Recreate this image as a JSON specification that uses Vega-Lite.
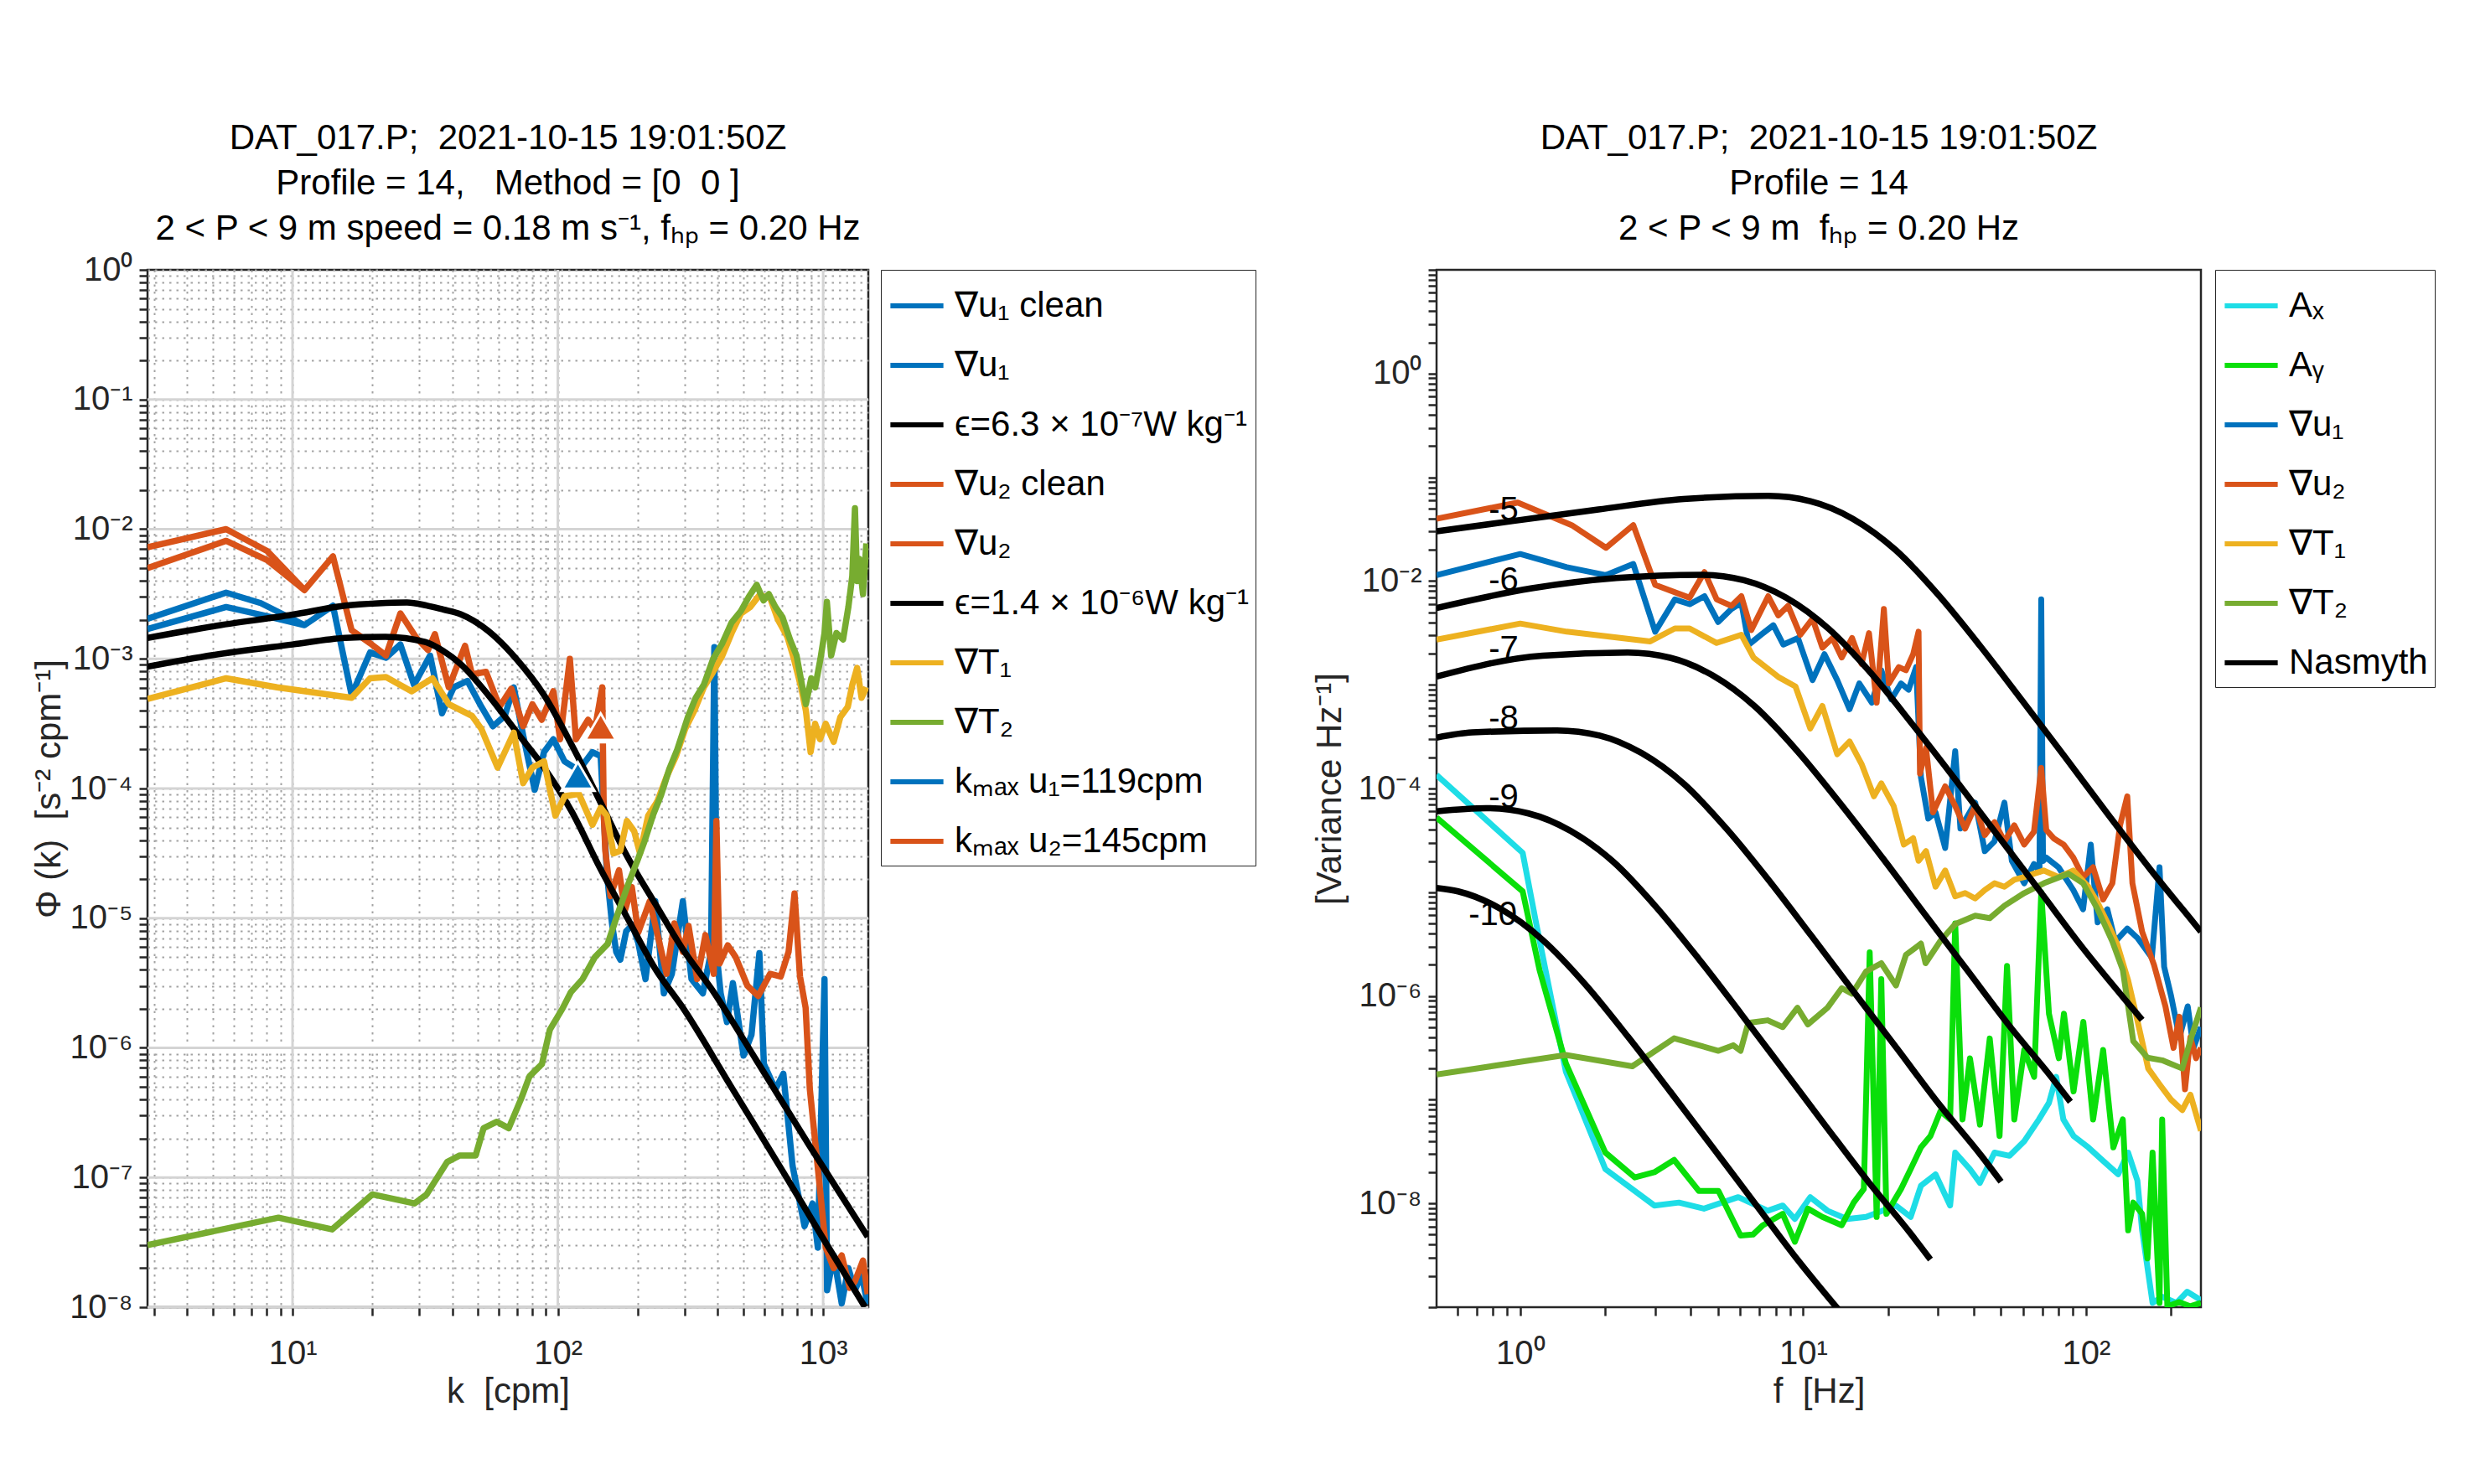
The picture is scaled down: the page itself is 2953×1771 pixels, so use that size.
{
  "$schema": "https://vega.github.io/schema/vega-lite/v6.json",
  "background": "white",
  "padding": {"left": 36, "top": 142, "right": 5, "bottom": 5},
  "config": {
    "font": "Liberation Sans",
    "view": {"stroke": "#262626", "strokeWidth": 2.5},
    "axis": {
      "labelFont": "Liberation Sans", "labelFontSize": 40, "labelColor": "#262626",
      "titleFont": "Liberation Sans", "titleFontSize": 42, "titleFontWeight": "normal", "titleColor": "#262626",
      "tickColor": "#262626", "tickWidth": 2.5, "tickSize": 10, "domain": false, "labelOverlap": false, "labelFlush": false
    },
    "legend": {
      "labelFont": "Liberation Sans", "labelFontSize": 42, "labelColor": "black", "labelLimit": 0, "labelOffset": 10,
      "symbolType": "stroke", "symbolSize": 4000, "symbolStrokeWidth": 6, "padding": 8,
      "strokeColor": "#262626"
    },
    "title": {"font": "Liberation Sans", "fontSize": 42, "fontWeight": "normal", "color": "black", "lineHeight": 54, "offset": 7, "anchor": "middle"}
  },
  "datasets": {
    "LU": [
      {"s":"∇u₁ clean","x":2.84,"y":1.70e-3},{"s":"∇u₁ clean","x":5.62,"y":2.51e-3},{"s":"∇u₁ clean","x":7.59,"y":2.19e-3},{"s":"∇u₁ clean","x":11.1,"y":1.82e-3},{"s":"∇u₁ clean","x":14.2,"y":2.57e-3},{"s":"∇u₁ clean","x":16.7,"y":5.25e-4},{"s":"∇u₁ clean","x":19.6,"y":1.12e-3},{"s":"∇u₁ clean","x":22.5,"y":1.02e-3},{"s":"∇u₁ clean","x":25.5,"y":1.29e-3},{"s":"∇u₁ clean","x":28.7,"y":6.31e-4},{"s":"∇u₁ clean","x":33.0,"y":1.06e-3},{"s":"∇u₁ clean","x":36.6,"y":3.80e-4},{"s":"∇u₁ clean","x":40.5,"y":6.03e-4},{"s":"∇u₁ clean","x":45.6,"y":6.76e-4},{"s":"∇u₁ clean","x":51.5,"y":4.27e-4},{"s":"∇u₁ clean","x":56.9,"y":3.02e-4},{"s":"∇u₁ clean","x":63.1,"y":3.63e-4},{"s":"∇u₁ clean","x":68.2,"y":6.03e-4},{"s":"∇u₁ clean","x":74.0,"y":2.57e-4},{"s":"∇u₁ clean","x":81.8,"y":9.77e-5},{"s":"∇u₁ clean","x":88.7,"y":1.91e-4},{"s":"∇u₁ clean","x":96.2,"y":2.40e-4},{"s":"∇u₁ clean","x":106,"y":1.62e-4},{"s":"∇u₁ clean","x":120,"y":1.38e-4},{"s":"∇u₁ clean","x":135,"y":1.91e-4},{"s":"∇u₁ clean","x":145,"y":1.78e-4},{"s":"∇u₁ clean","x":153,"y":2.24e-5},{"s":"∇u₁ clean","x":160,"y":9.12e-6},{"s":"∇u₁ clean","x":166,"y":5.50e-6},{"s":"∇u₁ clean","x":172,"y":4.79e-6},{"s":"∇u₁ clean","x":181,"y":7.94e-6},{"s":"∇u₁ clean","x":191,"y":8.91e-6},{"s":"∇u₁ clean","x":201,"y":6.46e-6},{"s":"∇u₁ clean","x":214,"y":3.39e-6},{"s":"∇u₁ clean","x":233,"y":1.35e-5},{"s":"∇u₁ clean","x":251,"y":2.63e-6},{"s":"∇u₁ clean","x":269,"y":3.72e-6},{"s":"∇u₁ clean","x":296,"y":1.35e-5},{"s":"∇u₁ clean","x":319,"y":3.39e-6},{"s":"∇u₁ clean","x":352,"y":2.63e-6},{"s":"∇u₁ clean","x":378,"y":5.50e-6},{"s":"∇u₁ clean","x":389,"y":1.23e-3},{"s":"∇u₁ clean","x":398,"y":5.01e-6},{"s":"∇u₁ clean","x":411,"y":2.63e-6},{"s":"∇u₁ clean","x":434,"y":1.58e-6},{"s":"∇u₁ clean","x":457,"y":3.16e-6},{"s":"∇u₁ clean","x":501,"y":8.71e-7},{"s":"∇u₁ clean","x":537,"y":1.26e-6},{"s":"∇u₁ clean","x":575,"y":5.37e-6},{"s":"∇u₁ clean","x":598,"y":7.50e-7},{"s":"∇u₁ clean","x":661,"y":4.79e-7},{"s":"∇u₁ clean","x":708,"y":6.31e-7},{"s":"∇u₁ clean","x":767,"y":1.23e-7},{"s":"∇u₁ clean","x":851,"y":4.22e-8},{"s":"∇u₁ clean","x":912,"y":6.31e-8},{"s":"∇u₁ clean","x":955,"y":2.88e-8},{"s":"∇u₁ clean","x":1012,"y":3.39e-6},{"s":"∇u₁ clean","x":1035,"y":1.35e-8},{"s":"∇u₁ clean","x":1096,"y":2.51e-8},{"s":"∇u₁ clean","x":1175,"y":1.07e-8},{"s":"∇u₁ clean","x":1245,"y":2.0e-8},{"s":"∇u₁ clean","x":1318,"y":1.35e-8},{"s":"∇u₁ clean","x":1396,"y":1.78e-8},{"s":"∇u₁ clean","x":1472,"y":1.05e-8},
      {"s":"∇u₁","x":2.84,"y":2.04e-3},{"s":"∇u₁","x":5.62,"y":3.24e-3},{"s":"∇u₁","x":7.59,"y":2.69e-3},{"s":"∇u₁","x":11.1,"y":1.82e-3},
      {"s":"∇u₂ clean","x":2.84,"y":5.01e-3},{"s":"∇u₂ clean","x":5.62,"y":8.13e-3},{"s":"∇u₂ clean","x":8.04,"y":5.75e-3},{"s":"∇u₂ clean","x":11.1,"y":3.39e-3},{"s":"∇u₂ clean","x":14.2,"y":6.17e-3},{"s":"∇u₂ clean","x":16.7,"y":1.66e-3},{"s":"∇u₂ clean","x":19.6,"y":1.32e-3},{"s":"∇u₂ clean","x":22.5,"y":1.06e-3},{"s":"∇u₂ clean","x":25.5,"y":2.24e-3},{"s":"∇u₂ clean","x":29.3,"y":1.45e-3},{"s":"∇u₂ clean","x":32.4,"y":1.17e-3},{"s":"∇u₂ clean","x":34.4,"y":1.55e-3},{"s":"∇u₂ clean","x":38.8,"y":6.03e-4},{"s":"∇u₂ clean","x":44.7,"y":1.26e-3},{"s":"∇u₂ clean","x":47.5,"y":7.59e-4},{"s":"∇u₂ clean","x":53.6,"y":7.94e-4},{"s":"∇u₂ clean","x":60.3,"y":4.27e-4},{"s":"∇u₂ clean","x":66.8,"y":5.89e-4},{"s":"∇u₂ clean","x":74.0,"y":3.02e-4},{"s":"∇u₂ clean","x":80.2,"y":4.47e-4},{"s":"∇u₂ clean","x":86.9,"y":3.39e-4},{"s":"∇u₂ clean","x":96.2,"y":5.62e-4},{"s":"∇u₂ clean","x":102,"y":2.40e-4},{"s":"∇u₂ clean","x":111,"y":1.0e-3},{"s":"∇u₂ clean","x":117,"y":2.40e-4},{"s":"∇u₂ clean","x":130,"y":3.39e-4},{"s":"∇u₂ clean","x":138,"y":2.88e-4},{"s":"∇u₂ clean","x":147,"y":6.03e-4},{"s":"∇u₂ clean","x":149,"y":6.17e-5},{"s":"∇u₂ clean","x":151,"y":3.31e-5},{"s":"∇u₂ clean","x":158,"y":1.48e-5},{"s":"∇u₂ clean","x":170,"y":2.34e-5},{"s":"∇u₂ clean","x":179,"y":1.15e-5},{"s":"∇u₂ clean","x":190,"y":1.74e-5},{"s":"∇u₂ clean","x":201,"y":7.76e-6},{"s":"∇u₂ clean","x":222,"y":1.35e-5},{"s":"∇u₂ clean","x":239,"y":7.08e-6},{"s":"∇u₂ clean","x":257,"y":3.72e-6},{"s":"∇u₂ clean","x":275,"y":9.12e-6},{"s":"∇u₂ clean","x":296,"y":5.50e-6},{"s":"∇u₂ clean","x":311,"y":8.71e-6},{"s":"∇u₂ clean","x":335,"y":3.39e-6},{"s":"∇u₂ clean","x":360,"y":7.41e-6},{"s":"∇u₂ clean","x":387,"y":3.72e-6},{"s":"∇u₂ clean","x":396,"y":5.62e-5},{"s":"∇u₂ clean","x":407,"y":4.47e-6},{"s":"∇u₂ clean","x":437,"y":6.17e-6},{"s":"∇u₂ clean","x":468,"y":5.01e-6},{"s":"∇u₂ clean","x":518,"y":3.02e-6},{"s":"∇u₂ clean","x":569,"y":2.51e-6},{"s":"∇u₂ clean","x":631,"y":3.72e-6},{"s":"∇u₂ clean","x":692,"y":3.55e-6},{"s":"∇u₂ clean","x":741,"y":5.50e-6},{"s":"∇u₂ clean","x":780,"y":1.55e-5},{"s":"∇u₂ clean","x":818,"y":3.55e-6},{"s":"∇u₂ clean","x":859,"y":2.04e-6},{"s":"∇u₂ clean","x":891,"y":4.79e-7},{"s":"∇u₂ clean","x":933,"y":1.91e-7},{"s":"∇u₂ clean","x":986,"y":6.17e-8},{"s":"∇u₂ clean","x":1023,"y":2.88e-8},{"s":"∇u₂ clean","x":1096,"y":2.0e-8},{"s":"∇u₂ clean","x":1175,"y":2.51e-8},{"s":"∇u₂ clean","x":1259,"y":1.41e-8},{"s":"∇u₂ clean","x":1318,"y":1.58e-8},{"s":"∇u₂ clean","x":1413,"y":2.29e-8},{"s":"∇u₂ clean","x":1472,"y":1.26e-8},
      {"s":"∇u₂","x":2.84,"y":7.24e-3},{"s":"∇u₂","x":5.62,"y":1.0e-2},{"s":"∇u₂","x":8.04,"y":6.76e-3},{"s":"∇u₂","x":11.1,"y":3.39e-3}
    ],
    "LE": [
      {"s":"ϵ=6.3 × 10⁻⁷W kg⁻¹","x":2.84,"y":8.71e-4},{"s":"ϵ=6.3 × 10⁻⁷W kg⁻¹","x":5.01,"y":1.07e-3},{"s":"ϵ=6.3 × 10⁻⁷W kg⁻¹","x":10,"y":1.29e-3},{"s":"ϵ=6.3 × 10⁻⁷W kg⁻¹","x":15.8,"y":1.45e-3},{"s":"ϵ=6.3 × 10⁻⁷W kg⁻¹","x":22.4,"y":1.48e-3},{"s":"ϵ=6.3 × 10⁻⁷W kg⁻¹","x":31.6,"y":1.35e-3},{"s":"ϵ=6.3 × 10⁻⁷W kg⁻¹","x":37,"y":1.15e-3},{"s":"ϵ=6.3 × 10⁻⁷W kg⁻¹","x":43.0,"y":9.12e-4},{"s":"ϵ=6.3 × 10⁻⁷W kg⁻¹","x":54.7,"y":5.25e-4},{"s":"ϵ=6.3 × 10⁻⁷W kg⁻¹","x":69.7,"y":2.75e-4},{"s":"ϵ=6.3 × 10⁻⁷W kg⁻¹","x":88.7,"y":1.45e-4},{"s":"ϵ=6.3 × 10⁻⁷W kg⁻¹","x":113,"y":6.61e-5},{"s":"ϵ=6.3 × 10⁻⁷W kg⁻¹","x":144,"y":2.45e-5},{"s":"ϵ=6.3 × 10⁻⁷W kg⁻¹","x":183,"y":1.0e-5},{"s":"ϵ=6.3 × 10⁻⁷W kg⁻¹","x":233,"y":4.07e-6},{"s":"ϵ=6.3 × 10⁻⁷W kg⁻¹","x":296,"y":2.04e-6},{"s":"ϵ=6.3 × 10⁻⁷W kg⁻¹","x":447,"y":5.13e-7},{"s":"ϵ=6.3 × 10⁻⁷W kg⁻¹","x":708,"y":1.10e-7},{"s":"ϵ=6.3 × 10⁻⁷W kg⁻¹","x":1000,"y":3.39e-8},{"s":"ϵ=6.3 × 10⁻⁷W kg⁻¹","x":1439,"y":1.0e-8},
      {"s":"ϵ=1.4 × 10⁻⁶W kg⁻¹","x":2.84,"y":1.45e-3},{"s":"ϵ=1.4 × 10⁻⁶W kg⁻¹","x":5.01,"y":1.78e-3},{"s":"ϵ=1.4 × 10⁻⁶W kg⁻¹","x":10,"y":2.19e-3},{"s":"ϵ=1.4 × 10⁻⁶W kg⁻¹","x":15.8,"y":2.57e-3},{"s":"ϵ=1.4 × 10⁻⁶W kg⁻¹","x":21,"y":2.68e-3},{"s":"ϵ=1.4 × 10⁻⁶W kg⁻¹","x":27,"y":2.72e-3},{"s":"ϵ=1.4 × 10⁻⁶W kg⁻¹","x":32,"y":2.58e-3},{"s":"ϵ=1.4 × 10⁻⁶W kg⁻¹","x":37,"y":2.40e-3},{"s":"ϵ=1.4 × 10⁻⁶W kg⁻¹","x":43.0,"y":2.21e-3},{"s":"ϵ=1.4 × 10⁻⁶W kg⁻¹","x":54.7,"y":1.64e-3},{"s":"ϵ=1.4 × 10⁻⁶W kg⁻¹","x":69.7,"y":1.0e-3},{"s":"ϵ=1.4 × 10⁻⁶W kg⁻¹","x":88.7,"y":5.25e-4},{"s":"ϵ=1.4 × 10⁻⁶W kg⁻¹","x":113,"y":2.15e-4},{"s":"ϵ=1.4 × 10⁻⁶W kg⁻¹","x":144,"y":8.0e-5},{"s":"ϵ=1.4 × 10⁻⁶W kg⁻¹","x":183,"y":2.97e-5},{"s":"ϵ=1.4 × 10⁻⁶W kg⁻¹","x":233,"y":1.29e-5},{"s":"ϵ=1.4 × 10⁻⁶W kg⁻¹","x":296,"y":5.75e-6},{"s":"ϵ=1.4 × 10⁻⁶W kg⁻¹","x":378,"y":2.88e-6},{"s":"ϵ=1.4 × 10⁻⁶W kg⁻¹","x":562,"y":7.94e-7},{"s":"ϵ=1.4 × 10⁻⁶W kg⁻¹","x":891,"y":1.74e-7},{"s":"ϵ=1.4 × 10⁻⁶W kg⁻¹","x":1472,"y":3.49e-8}
    ],
    "LT": [
      {"s":"∇T₁","x":2.84,"y":4.90e-4},{"s":"∇T₁","x":5.62,"y":7.08e-4},{"s":"∇T₁","x":8.75,"y":6.03e-4},{"s":"∇T₁","x":16.7,"y":5.01e-4},{"s":"∇T₁","x":19.6,"y":7.08e-4},{"s":"∇T₁","x":22.5,"y":7.24e-4},{"s":"∇T₁","x":28.1,"y":5.62e-4},{"s":"∇T₁","x":33.7,"y":7.08e-4},{"s":"∇T₁","x":38.8,"y":4.47e-4},{"s":"∇T₁","x":47.5,"y":3.63e-4},{"s":"∇T₁","x":51.5,"y":2.88e-4},{"s":"∇T₁","x":59.3,"y":1.45e-4},{"s":"∇T₁","x":68.2,"y":2.69e-4},{"s":"∇T₁","x":74.0,"y":1.10e-4},{"s":"∇T₁","x":80.2,"y":1.45e-4},{"s":"∇T₁","x":88.7,"y":1.62e-4},{"s":"∇T₁","x":97.9,"y":6.17e-5},{"s":"∇T₁","x":106,"y":8.71e-5},{"s":"∇T₁","x":120,"y":9.12e-5},{"s":"∇T₁","x":135,"y":5.25e-5},{"s":"∇T₁","x":145,"y":7.08e-5},{"s":"∇T₁","x":153,"y":6.17e-5},{"s":"∇T₁","x":162,"y":3.16e-5},{"s":"∇T₁","x":172,"y":3.31e-5},{"s":"∇T₁","x":182,"y":5.62e-5},{"s":"∇T₁","x":194,"y":4.68e-5},{"s":"∇T₁","x":204,"y":3.16e-5},{"s":"∇T₁","x":219,"y":6.17e-5},{"s":"∇T₁","x":237,"y":7.94e-5},{"s":"∇T₁","x":257,"y":1.23e-4},{"s":"∇T₁","x":279,"y":1.78e-4},{"s":"∇T₁","x":302,"y":2.88e-4},{"s":"∇T₁","x":327,"y":3.98e-4},{"s":"∇T₁","x":355,"y":6.03e-4},{"s":"∇T₁","x":385,"y":7.94e-4},{"s":"∇T₁","x":417,"y":1.06e-3},{"s":"∇T₁","x":452,"y":1.58e-3},{"s":"∇T₁","x":490,"y":2.24e-3},{"s":"∇T₁","x":531,"y":2.51e-3},{"s":"∇T₁","x":575,"y":3.09e-3},{"s":"∇T₁","x":631,"y":2.95e-3},{"s":"∇T₁","x":676,"y":2.0e-3},{"s":"∇T₁","x":733,"y":1.48e-3},{"s":"∇T₁","x":776,"y":1.0e-3},{"s":"∇T₁","x":826,"y":6.03e-4},{"s":"∇T₁","x":861,"y":3.98e-4},{"s":"∇T₁","x":897,"y":1.91e-4},{"s":"∇T₁","x":933,"y":3.16e-4},{"s":"∇T₁","x":973,"y":2.40e-4},{"s":"∇T₁","x":1023,"y":3.16e-4},{"s":"∇T₁","x":1096,"y":2.29e-4},{"s":"∇T₁","x":1161,"y":3.55e-4},{"s":"∇T₁","x":1239,"y":4.27e-4},{"s":"∇T₁","x":1288,"y":6.31e-4},{"s":"∇T₁","x":1343,"y":8.51e-4},{"s":"∇T₁","x":1396,"y":5.01e-4},{"s":"∇T₁","x":1455,"y":6.03e-4},
      {"s":"∇T₂","x":2.84,"y":3.02e-8},{"s":"∇T₂","x":8.85,"y":4.90e-8},{"s":"∇T₂","x":14.1,"y":3.98e-8},{"s":"∇T₂","x":20.0,"y":7.41e-8},{"s":"∇T₂","x":28.8,"y":6.31e-8},{"s":"∇T₂","x":32.0,"y":7.41e-8},{"s":"∇T₂","x":38.3,"y":1.32e-7},{"s":"∇T₂","x":42.7,"y":1.48e-7},{"s":"∇T₂","x":49.0,"y":1.48e-7},{"s":"∇T₂","x":52.5,"y":2.40e-7},{"s":"∇T₂","x":58.9,"y":2.69e-7},{"s":"∇T₂","x":65.3,"y":2.40e-7},{"s":"∇T₂","x":72.8,"y":4.07e-7},{"s":"∇T₂","x":78.2,"y":6.03e-7},{"s":"∇T₂","x":87.1,"y":7.50e-7},{"s":"∇T₂","x":93.3,"y":1.38e-6},{"s":"∇T₂","x":104,"y":2.0e-6},{"s":"∇T₂","x":112,"y":2.69e-6},{"s":"∇T₂","x":124,"y":3.39e-6},{"s":"∇T₂","x":138,"y":5.01e-6},{"s":"∇T₂","x":154,"y":6.31e-6},{"s":"∇T₂","x":166,"y":1.0e-5},{"s":"∇T₂","x":184,"y":1.82e-5},{"s":"∇T₂","x":200,"y":2.82e-5},{"s":"∇T₂","x":212,"y":3.89e-5},{"s":"∇T₂","x":229,"y":6.31e-5},{"s":"∇T₂","x":245,"y":8.91e-5},{"s":"∇T₂","x":263,"y":1.41e-4},{"s":"∇T₂","x":282,"y":2.0e-4},{"s":"∇T₂","x":309,"y":3.55e-4},{"s":"∇T₂","x":331,"y":5.01e-4},{"s":"∇T₂","x":355,"y":6.31e-4},{"s":"∇T₂","x":385,"y":1.0e-3},{"s":"∇T₂","x":417,"y":1.32e-3},{"s":"∇T₂","x":452,"y":1.91e-3},{"s":"∇T₂","x":490,"y":2.34e-3},{"s":"∇T₂","x":525,"y":3.02e-3},{"s":"∇T₂","x":562,"y":3.72e-3},{"s":"∇T₂","x":596,"y":2.82e-3},{"s":"∇T₂","x":624,"y":3.16e-3},{"s":"∇T₂","x":661,"y":2.51e-3},{"s":"∇T₂","x":703,"y":2.09e-3},{"s":"∇T₂","x":750,"y":1.41e-3},{"s":"∇T₂","x":794,"y":1.06e-3},{"s":"∇T₂","x":832,"y":6.31e-4},{"s":"∇T₂","x":861,"y":4.47e-4},{"s":"∇T₂","x":902,"y":7.08e-4},{"s":"∇T₂","x":933,"y":6.03e-4},{"s":"∇T₂","x":977,"y":1.0e-3},{"s":"∇T₂","x":1012,"y":1.58e-3},{"s":"∇T₂","x":1033,"y":2.75e-3},{"s":"∇T₂","x":1072,"y":1.06e-3},{"s":"∇T₂","x":1122,"y":1.58e-3},{"s":"∇T₂","x":1189,"y":1.41e-3},{"s":"∇T₂","x":1245,"y":2.51e-3},{"s":"∇T₂","x":1288,"y":4.37e-3},{"s":"∇T₂","x":1318,"y":1.45e-2},{"s":"∇T₂","x":1343,"y":3.98e-3},{"s":"∇T₂","x":1368,"y":5.89e-3},{"s":"∇T₂","x":1413,"y":3.16e-3},{"s":"∇T₂","x":1455,"y":7.76e-3}
    ],
    "K": [
      {"s":"kₘₐₓ u₁=119cpm","x":119,"y":1.25e-4},
      {"s":"kₘₐₓ u₂=145cpm","x":145,"y":2.97e-4}
    ],
    "GX": [{"g":10},{"g":100},{"g":1000}],
    "GY": [{"g":1e-8},{"g":1e-7},{"g":1e-6},{"g":1e-5},{"g":1e-4},{"g":1e-3},{"g":1e-2},{"g":0.1}],
    "R": [
      {"s":"Aₓ","x":0.506,"y":1.35e-4},{"s":"Aₓ","x":1.02,"y":2.40e-5},{"s":"Aₓ","x":1.14,"y":4.93e-6},{"s":"Aₓ","x":1.45,"y":1.86e-7},{"s":"Aₓ","x":2.0,"y":2.14e-8},{"s":"Aₓ","x":2.98,"y":9.55e-9},{"s":"Aₓ","x":3.64,"y":1.02e-8},{"s":"Aₓ","x":4.46,"y":8.91e-9},{"s":"Aₓ","x":5.90,"y":1.15e-8},{"s":"Aₓ","x":7.50,"y":8.51e-9},{"s":"Aₓ","x":8.47,"y":9.55e-9},{"s":"Aₓ","x":9.35,"y":7.08e-9},{"s":"Aₓ","x":10.6,"y":1.15e-8},{"s":"Aₓ","x":12.2,"y":8.51e-9},{"s":"Aₓ","x":14.3,"y":7.08e-9},{"s":"Aₓ","x":16.7,"y":7.41e-9},{"s":"Aₓ","x":21.3,"y":9.55e-9},{"s":"Aₓ","x":24.0,"y":7.41e-9},{"s":"Aₓ","x":26.1,"y":1.48e-8},{"s":"Aₓ","x":29.4,"y":1.91e-8},{"s":"Aₓ","x":33.1,"y":9.55e-9},{"s":"Aₓ","x":34.5,"y":3.09e-8},{"s":"Aₓ","x":38.9,"y":2.14e-8},{"s":"Aₓ","x":42.2,"y":1.58e-8},{"s":"Aₓ","x":47.5,"y":3.09e-8},{"s":"Aₓ","x":53.7,"y":2.88e-8},{"s":"Aₓ","x":60.5,"y":3.98e-8},{"s":"Aₓ","x":68.2,"y":6.46e-8},{"s":"Aₓ","x":74.0,"y":9.33e-8},{"s":"Aₓ","x":78.5,"y":1.66e-7},{"s":"Aₓ","x":83.2,"y":6.46e-8},{"s":"Aₓ","x":90.4,"y":4.47e-8},{"s":"Aₓ","x":102,"y":3.47e-8},{"s":"Aₓ","x":115,"y":2.57e-8},{"s":"Aₓ","x":130,"y":1.91e-8},{"s":"Aₓ","x":141,"y":3.09e-8},{"s":"Aₓ","x":152,"y":1.66e-8},{"s":"Aₓ","x":158,"y":5.50e-9},{"s":"Aₓ","x":172,"y":1.10e-9},{"s":"Aₓ","x":186,"y":1.26e-9},{"s":"Aₓ","x":209,"y":1.10e-9},{"s":"Aₓ","x":228,"y":1.41e-9},{"s":"Aₓ","x":255,"y":1.17e-9},
      {"s":"Aᵧ","x":0.506,"y":5.25e-5},{"s":"Aᵧ","x":1.02,"y":1.02e-5},{"s":"Aᵧ","x":1.17,"y":1.78e-6},{"s":"Aᵧ","x":1.45,"y":2.24e-7},{"s":"Aᵧ","x":2.0,"y":3.09e-8},{"s":"Aᵧ","x":2.54,"y":1.78e-8},{"s":"Aᵧ","x":2.98,"y":2.0e-8},{"s":"Aᵧ","x":3.50,"y":2.63e-8},{"s":"Aᵧ","x":4.28,"y":1.32e-8},{"s":"Aᵧ","x":5.02,"y":1.32e-8},{"s":"Aᵧ","x":6.01,"y":4.90e-9},{"s":"Aᵧ","x":6.65,"y":5.01e-9},{"s":"Aᵧ","x":7.21,"y":6.17e-9},{"s":"Aᵧ","x":8.47,"y":7.94e-9},{"s":"Aᵧ","x":9.35,"y":4.27e-9},{"s":"Aᵧ","x":10.4,"y":8.91e-9},{"s":"Aᵧ","x":11.7,"y":7.41e-9},{"s":"Aᵧ","x":13.7,"y":6.17e-9},{"s":"Aᵧ","x":15.1,"y":1.02e-8},{"s":"Aᵧ","x":16.4,"y":1.38e-8},{"s":"Aᵧ","x":17.2,"y":2.63e-6},{"s":"Aᵧ","x":18.2,"y":7.41e-9},{"s":"Aᵧ","x":18.9,"y":1.45e-6},{"s":"Aᵧ","x":19.7,"y":7.94e-9},{"s":"Aᵧ","x":22.2,"y":1.38e-8},{"s":"Aᵧ","x":24.0,"y":2.14e-8},{"s":"Aᵧ","x":26.1,"y":3.47e-8},{"s":"Aᵧ","x":28.2,"y":4.47e-8},{"s":"Aᵧ","x":30.6,"y":7.76e-8},{"s":"Aᵧ","x":33.1,"y":6.46e-8},{"s":"Aᵧ","x":34.5,"y":5.01e-6},{"s":"Aᵧ","x":36.6,"y":6.46e-8},{"s":"Aᵧ","x":38.9,"y":2.51e-7},{"s":"Aᵧ","x":42.2,"y":5.75e-8},{"s":"Aᵧ","x":45.7,"y":3.89e-7},{"s":"Aᵧ","x":49.5,"y":4.47e-8},{"s":"Aᵧ","x":52.6,"y":1.95e-6},{"s":"Aᵧ","x":55.8,"y":6.46e-8},{"s":"Aᵧ","x":60.5,"y":3.02e-7},{"s":"Aᵧ","x":65.6,"y":1.66e-7},{"s":"Aᵧ","x":69.5,"y":1.0e-5},{"s":"Aᵧ","x":74.0,"y":6.76e-7},{"s":"Aᵧ","x":80.2,"y":2.51e-7},{"s":"Aᵧ","x":83.6,"y":6.76e-7},{"s":"Aᵧ","x":90.4,"y":1.20e-7},{"s":"Aᵧ","x":97.9,"y":5.62e-7},{"s":"Aᵧ","x":106,"y":6.46e-8},{"s":"Aᵧ","x":115,"y":3.02e-7},{"s":"Aᵧ","x":125,"y":3.47e-8},{"s":"Aᵧ","x":135,"y":6.46e-8},{"s":"Aᵧ","x":141,"y":5.50e-9},{"s":"Aᵧ","x":147,"y":1.02e-8},{"s":"Aᵧ","x":158,"y":7.94e-9},{"s":"Aᵧ","x":165,"y":2.95e-9},{"s":"Aᵧ","x":172,"y":3.09e-8},{"s":"Aᵧ","x":182,"y":1.10e-9},{"s":"Aᵧ","x":186,"y":6.46e-8},{"s":"Aᵧ","x":194,"y":1.02e-9},{"s":"Aᵧ","x":214,"y":1.12e-9},{"s":"Aᵧ","x":234,"y":1.02e-9},{"s":"Aᵧ","x":255,"y":1.10e-9},
      {"s":"∇u₁","x":0.506,"y":1.14e-2},{"s":"∇u₁","x":1.0,"y":1.82e-2},{"s":"∇u₁","x":1.46,"y":1.36e-2},{"s":"∇u₁","x":2.01,"y":1.14e-2},{"s":"∇u₁","x":2.51,"y":1.46e-2},{"s":"∇u₁","x":3.0,"y":3.25e-3},{"s":"∇u₁","x":3.52,"y":6.65e-3},{"s":"∇u₁","x":3.97,"y":5.98e-3},{"s":"∇u₁","x":4.48,"y":7.14e-3},{"s":"∇u₁","x":5.01,"y":4.03e-3},{"s":"∇u₁","x":5.58,"y":5.37e-3},{"s":"∇u₁","x":6.05,"y":6.19e-3},{"s":"∇u₁","x":6.43,"y":2.44e-3},{"s":"∇u₁","x":7.10,"y":3.03e-3},{"s":"∇u₁","x":7.85,"y":3.75e-3},{"s":"∇u₁","x":8.51,"y":2.44e-3},{"s":"∇u₁","x":9.59,"y":2.82e-3},{"s":"∇u₁","x":10.8,"y":1.11e-3},{"s":"∇u₁","x":11.9,"y":1.97e-3},{"s":"∇u₁","x":13.2,"y":1.11e-3},{"s":"∇u₁","x":14.6,"y":5.82e-4},{"s":"∇u₁","x":15.8,"y":1.03e-3},{"s":"∇u₁","x":17.5,"y":6.73e-4},{"s":"∇u₁","x":18.9,"y":1.38e-3},{"s":"∇u₁","x":20.5,"y":7.24e-4},{"s":"∇u₁","x":22.2,"y":1.03e-3},{"s":"∇u₁","x":23.6,"y":8.95e-4},{"s":"∇u₁","x":25.1,"y":1.48e-3},{"s":"∇u₁","x":26.1,"y":1.29e-4},{"s":"∇u₁","x":27.7,"y":5.13e-5},{"s":"∇u₁","x":29.4,"y":5.89e-5},{"s":"∇u₁","x":31.8,"y":2.67e-5},{"s":"∇u₁","x":34.5,"y":2.29e-4},{"s":"∇u₁","x":36.0,"y":4.11e-5},{"s":"∇u₁","x":40.6,"y":7.30e-5},{"s":"∇u₁","x":43.9,"y":2.49e-5},{"s":"∇u₁","x":47.5,"y":3.09e-5},{"s":"∇u₁","x":51.5,"y":7.30e-5},{"s":"∇u₁","x":54.7,"y":2.01e-5},{"s":"∇u₁","x":60.5,"y":1.22e-5},{"s":"∇u₁","x":65.5,"y":1.87e-5},{"s":"∇u₁","x":68.5,"y":1.58e-5},{"s":"∇u₁","x":69.5,"y":6.65e-3},{"s":"∇u₁","x":70.5,"y":2.0e-5},{"s":"∇u₁","x":72.4,"y":2.16e-5},{"s":"∇u₁","x":80.0,"y":1.74e-5},{"s":"∇u₁","x":90.2,"y":1.05e-5},{"s":"∇u₁","x":97.7,"y":6.85e-6},{"s":"∇u₁","x":104,"y":2.88e-5},{"s":"∇u₁","x":110,"y":5.13e-6},{"s":"∇u₁","x":119,"y":6.85e-6},{"s":"∇u₁","x":127,"y":3.35e-6},{"s":"∇u₁","x":140,"y":4.47e-6},{"s":"∇u₁","x":152,"y":3.63e-6},{"s":"∇u₁","x":171,"y":2.34e-6},{"s":"∇u₁","x":182,"y":1.74e-5},{"s":"∇u₁","x":189,"y":1.91e-6},{"s":"∇u₁","x":200,"y":1.0e-6},{"s":"∇u₁","x":214,"y":3.98e-7},{"s":"∇u₁","x":229,"y":7.94e-7},{"s":"∇u₁","x":240,"y":3.16e-7},{"s":"∇u₁","x":255,"y":5.01e-7},
      {"s":"∇u₂","x":0.506,"y":3.98e-2},{"s":"∇u₂","x":0.98,"y":5.71e-2},{"s":"∇u₂","x":1.52,"y":3.46e-2},{"s":"∇u₂","x":2.01,"y":2.09e-2},{"s":"∇u₂","x":2.51,"y":3.46e-2},{"s":"∇u₂","x":3.0,"y":9.18e-3},{"s":"∇u₂","x":3.97,"y":6.90e-3},{"s":"∇u₂","x":4.48,"y":1.22e-2},{"s":"∇u₂","x":4.95,"y":6.65e-3},{"s":"∇u₂","x":5.58,"y":5.77e-3},{"s":"∇u₂","x":6.05,"y":7.14e-3},{"s":"∇u₂","x":6.56,"y":3.37e-3},{"s":"∇u₂","x":7.53,"y":7.14e-3},{"s":"∇u₂","x":8.17,"y":4.66e-3},{"s":"∇u₂","x":8.85,"y":5.77e-3},{"s":"∇u₂","x":9.77,"y":3.03e-3},{"s":"∇u₂","x":10.8,"y":4.34e-3},{"s":"∇u₂","x":11.7,"y":2.28e-3},{"s":"∇u₂","x":12.7,"y":2.82e-3},{"s":"∇u₂","x":13.7,"y":1.83e-3},{"s":"∇u₂","x":14.9,"y":2.82e-3},{"s":"∇u₂","x":16.1,"y":1.59e-3},{"s":"∇u₂","x":17.1,"y":3.14e-3},{"s":"∇u₂","x":18.2,"y":6.73e-4},{"s":"∇u₂","x":19.3,"y":5.37e-3},{"s":"∇u₂","x":20.1,"y":1.03e-3},{"s":"∇u₂","x":21.8,"y":1.48e-3},{"s":"∇u₂","x":23.1,"y":1.38e-3},{"s":"∇u₂","x":24.5,"y":1.97e-3},{"s":"∇u₂","x":25.6,"y":3.25e-3},{"s":"∇u₂","x":25.9,"y":1.39e-4},{"s":"∇u₂","x":27.2,"y":2.47e-4},{"s":"∇u₂","x":28.8,"y":5.89e-5},{"s":"∇u₂","x":31.8,"y":1.05e-4},{"s":"∇u₂","x":34.5,"y":6.79e-5},{"s":"∇u₂","x":37.4,"y":4.11e-5},{"s":"∇u₂","x":40.6,"y":6.79e-5},{"s":"∇u₂","x":43.9,"y":3.56e-5},{"s":"∇u₂","x":47.5,"y":4.74e-5},{"s":"∇u₂","x":51.5,"y":3.09e-5},{"s":"∇u₂","x":55.8,"y":4.42e-5},{"s":"∇u₂","x":60.5,"y":2.88e-5},{"s":"∇u₂","x":65.5,"y":3.83e-5},{"s":"∇u₂","x":69.5,"y":1.58e-4},{"s":"∇u₂","x":72.4,"y":3.98e-5},{"s":"∇u₂","x":76.9,"y":3.31e-5},{"s":"∇u₂","x":83.4,"y":2.88e-5},{"s":"∇u₂","x":90.2,"y":2.16e-5},{"s":"∇u₂","x":97.7,"y":1.40e-5},{"s":"∇u₂","x":106,"y":1.74e-5},{"s":"∇u₂","x":115,"y":8.51e-6},{"s":"∇u₂","x":124,"y":1.22e-5},{"s":"∇u₂","x":132,"y":4.42e-5},{"s":"∇u₂","x":140,"y":8.41e-5},{"s":"∇u₂","x":146,"y":1.22e-5},{"s":"∇u₂","x":158,"y":4.17e-6},{"s":"∇u₂","x":174,"y":2.0e-6},{"s":"∇u₂","x":191,"y":7.94e-7},{"s":"∇u₂","x":204,"y":3.16e-7},{"s":"∇u₂","x":214,"y":6.31e-7},{"s":"∇u₂","x":224,"y":1.26e-7},{"s":"∇u₂","x":234,"y":3.98e-7},{"s":"∇u₂","x":245,"y":2.51e-7},{"s":"∇u₂","x":255,"y":3.16e-7},
      {"s":"∇T₁","x":0.506,"y":2.72e-3},{"s":"∇T₁","x":1.0,"y":3.89e-3},{"s":"∇T₁","x":1.46,"y":3.25e-3},{"s":"∇T₁","x":2.88,"y":2.62e-3},{"s":"∇T₁","x":3.52,"y":3.49e-3},{"s":"∇T₁","x":3.97,"y":3.49e-3},{"s":"∇T₁","x":4.95,"y":2.53e-3},{"s":"∇T₁","x":6.05,"y":3.03e-3},{"s":"∇T₁","x":6.68,"y":1.83e-3},{"s":"∇T₁","x":8.17,"y":1.19e-3},{"s":"∇T₁","x":9.40,"y":9.62e-4},{"s":"∇T₁","x":10.6,"y":3.79e-4},{"s":"∇T₁","x":11.7,"y":6.25e-4},{"s":"∇T₁","x":13.2,"y":2.14e-4},{"s":"∇T₁","x":14.6,"y":2.84e-4},{"s":"∇T₁","x":16.1,"y":1.72e-4},{"s":"∇T₁","x":17.8,"y":8.41e-5},{"s":"∇T₁","x":18.9,"y":1.12e-4},{"s":"∇T₁","x":20.9,"y":6.79e-5},{"s":"∇T₁","x":22.7,"y":2.88e-5},{"s":"∇T₁","x":24.5,"y":3.32e-5},{"s":"∇T₁","x":25.6,"y":2.01e-5},{"s":"∇T₁","x":27.2,"y":2.49e-5},{"s":"∇T₁","x":29.4,"y":1.13e-5},{"s":"∇T₁","x":31.8,"y":1.62e-5},{"s":"∇T₁","x":34.5,"y":9.12e-6},{"s":"∇T₁","x":37.4,"y":9.82e-6},{"s":"∇T₁","x":40.6,"y":8.71e-6},{"s":"∇T₁","x":43.9,"y":1.05e-5},{"s":"∇T₁","x":47.5,"y":1.22e-5},{"s":"∇T₁","x":51.5,"y":1.13e-5},{"s":"∇T₁","x":55.8,"y":1.32e-5},{"s":"∇T₁","x":60.5,"y":1.40e-5},{"s":"∇T₁","x":65.5,"y":1.51e-5},{"s":"∇T₁","x":71.0,"y":1.62e-5},{"s":"∇T₁","x":80.0,"y":1.40e-5},{"s":"∇T₁","x":90.2,"y":1.62e-5},{"s":"∇T₁","x":102,"y":1.13e-5},{"s":"∇T₁","x":110,"y":7.94e-6},{"s":"∇T₁","x":119,"y":5.13e-6},{"s":"∇T₁","x":129,"y":3.16e-6},{"s":"∇T₁","x":141,"y":1.41e-6},{"s":"∇T₁","x":151,"y":6.31e-7},{"s":"∇T₁","x":166,"y":2.0e-7},{"s":"∇T₁","x":182,"y":1.41e-7},{"s":"∇T₁","x":200,"y":1.0e-7},{"s":"∇T₁","x":219,"y":7.94e-8},{"s":"∇T₁","x":234,"y":1.12e-7},{"s":"∇T₁","x":255,"y":5.01e-8},
      {"s":"∇T₂","x":0.506,"y":1.75e-7},{"s":"∇T₂","x":1.45,"y":2.70e-7},{"s":"∇T₂","x":2.49,"y":2.10e-7},{"s":"∇T₂","x":3.50,"y":3.91e-7},{"s":"∇T₂","x":5.02,"y":2.96e-7},{"s":"∇T₂","x":5.66,"y":3.35e-7},{"s":"∇T₂","x":6.01,"y":2.96e-7},{"s":"∇T₂","x":6.40,"y":5.50e-7},{"s":"∇T₂","x":7.50,"y":5.83e-7},{"s":"∇T₂","x":8.47,"y":5.01e-7},{"s":"∇T₂","x":9.55,"y":7.71e-7},{"s":"∇T₂","x":10.4,"y":5.32e-7},{"s":"∇T₂","x":12.2,"y":7.71e-7},{"s":"∇T₂","x":13.7,"y":1.19e-6},{"s":"∇T₂","x":14.9,"y":1.05e-6},{"s":"∇T₂","x":16.7,"y":1.72e-6},{"s":"∇T₂","x":18.9,"y":2.07e-6},{"s":"∇T₂","x":21.3,"y":1.26e-6},{"s":"∇T₂","x":23.1,"y":2.49e-6},{"s":"∇T₂","x":26.1,"y":3.20e-6},{"s":"∇T₂","x":27.1,"y":2.07e-6},{"s":"∇T₂","x":30.6,"y":3.40e-6},{"s":"∇T₂","x":34.5,"y":4.93e-6},{"s":"∇T₂","x":40.6,"y":5.94e-6},{"s":"∇T₂","x":45.7,"y":5.62e-6},{"s":"∇T₂","x":51.5,"y":7.41e-6},{"s":"∇T₂","x":60.5,"y":9.82e-6},{"s":"∇T₂","x":71.0,"y":1.22e-5},{"s":"∇T₂","x":86.7,"y":1.51e-5},{"s":"∇T₂","x":97.7,"y":1.22e-5},{"s":"∇T₂","x":110,"y":6.85e-6},{"s":"∇T₂","x":124,"y":3.35e-6},{"s":"∇T₂","x":135,"y":1.78e-6},{"s":"∇T₂","x":147,"y":3.67e-7},{"s":"∇T₂","x":165,"y":2.54e-7},{"s":"∇T₂","x":186,"y":2.40e-7},{"s":"∇T₂","x":219,"y":2.0e-7},{"s":"∇T₂","x":237,"y":4.17e-7},{"s":"∇T₂","x":255,"y":7.76e-7}
    ],
    "RN": [
      {"s":"Nasmyth","id":"n5","x":0.506,"y":3.02e-2},{"s":"Nasmyth","id":"n5","x":0.948,"y":3.80e-2},{"s":"Nasmyth","id":"n5","x":1.89,"y":4.90e-2},{"s":"Nasmyth","id":"n5","x":3.78,"y":6.17e-2},{"s":"Nasmyth","id":"n5","x":7.53,"y":6.61e-2},{"s":"Nasmyth","id":"n5","x":10.6,"y":5.89e-2},{"s":"Nasmyth","id":"n5","x":15.0,"y":3.98e-2},{"s":"Nasmyth","id":"n5","x":21.2,"y":2.0e-2},{"s":"Nasmyth","id":"n5","x":30.0,"y":7.41e-3},{"s":"Nasmyth","id":"n5","x":42.4,"y":2.34e-3},{"s":"Nasmyth","id":"n5","x":59.8,"y":6.92e-4},{"s":"Nasmyth","id":"n5","x":84.5,"y":2.0e-4},{"s":"Nasmyth","id":"n5","x":119,"y":5.75e-5},{"s":"Nasmyth","id":"n5","x":169,"y":1.66e-5},{"s":"Nasmyth","id":"n5","x":238,"y":5.25e-6},{"s":"Nasmyth","id":"n5","x":255,"y":4.17e-6},
      {"s":"Nasmyth","id":"n6","x":0.506,"y":5.50e-3},{"s":"Nasmyth","id":"n6","x":1.10,"y":8.51e-3},{"s":"Nasmyth","id":"n6","x":2.19,"y":1.07e-2},{"s":"Nasmyth","id":"n6","x":4.37,"y":1.15e-2},{"s":"Nasmyth","id":"n6","x":6.17,"y":1.02e-2},{"s":"Nasmyth","id":"n6","x":8.71,"y":6.92e-3},{"s":"Nasmyth","id":"n6","x":12.3,"y":3.47e-3},{"s":"Nasmyth","id":"n6","x":17.4,"y":1.29e-3},{"s":"Nasmyth","id":"n6","x":24.5,"y":4.07e-4},{"s":"Nasmyth","id":"n6","x":34.7,"y":1.20e-4},{"s":"Nasmyth","id":"n6","x":49.0,"y":3.47e-5},{"s":"Nasmyth","id":"n6","x":69.2,"y":1.0e-5},{"s":"Nasmyth","id":"n6","x":97.7,"y":2.88e-6},{"s":"Nasmyth","id":"n6","x":138,"y":9.12e-7},{"s":"Nasmyth","id":"n6","x":158,"y":5.89e-7},
      {"s":"Nasmyth","id":"n7","x":0.506,"y":1.20e-3},{"s":"Nasmyth","id":"n7","x":1.20,"y":1.91e-3},{"s":"Nasmyth","id":"n7","x":2.40,"y":2.04e-3},{"s":"Nasmyth","id":"n7","x":3.39,"y":1.82e-3},{"s":"Nasmyth","id":"n7","x":4.79,"y":1.23e-3},{"s":"Nasmyth","id":"n7","x":6.76,"y":6.17e-4},{"s":"Nasmyth","id":"n7","x":9.55,"y":2.29e-4},{"s":"Nasmyth","id":"n7","x":13.5,"y":7.24e-5},{"s":"Nasmyth","id":"n7","x":19.1,"y":2.14e-5},{"s":"Nasmyth","id":"n7","x":26.9,"y":6.17e-6},{"s":"Nasmyth","id":"n7","x":38.0,"y":1.78e-6},{"s":"Nasmyth","id":"n7","x":53.7,"y":5.13e-7},{"s":"Nasmyth","id":"n7","x":75.9,"y":1.62e-7},{"s":"Nasmyth","id":"n7","x":88.1,"y":9.55e-8},
      {"s":"Nasmyth","id":"n8","x":0.506,"y":3.09e-4},{"s":"Nasmyth","id":"n8","x":0.676,"y":3.47e-4},{"s":"Nasmyth","id":"n8","x":1.35,"y":3.63e-4},{"s":"Nasmyth","id":"n8","x":1.91,"y":3.24e-4},{"s":"Nasmyth","id":"n8","x":2.69,"y":2.19e-4},{"s":"Nasmyth","id":"n8","x":3.80,"y":1.10e-4},{"s":"Nasmyth","id":"n8","x":5.37,"y":4.07e-5},{"s":"Nasmyth","id":"n8","x":7.59,"y":1.29e-5},{"s":"Nasmyth","id":"n8","x":10.7,"y":3.80e-6},{"s":"Nasmyth","id":"n8","x":15.1,"y":1.10e-6},{"s":"Nasmyth","id":"n8","x":21.4,"y":3.16e-7},{"s":"Nasmyth","id":"n8","x":30.2,"y":9.12e-8},{"s":"Nasmyth","id":"n8","x":42.7,"y":2.88e-8},{"s":"Nasmyth","id":"n8","x":50.1,"y":1.62e-8},
      {"s":"Nasmyth","id":"n9","x":0.506,"y":6.03e-5},{"s":"Nasmyth","id":"n9","x":0.759,"y":6.46e-5},{"s":"Nasmyth","id":"n9","x":1.07,"y":5.75e-5},{"s":"Nasmyth","id":"n9","x":1.51,"y":3.89e-5},{"s":"Nasmyth","id":"n9","x":2.14,"y":1.95e-5},{"s":"Nasmyth","id":"n9","x":3.02,"y":7.24e-6},{"s":"Nasmyth","id":"n9","x":4.27,"y":2.29e-6},{"s":"Nasmyth","id":"n9","x":6.03,"y":6.76e-7},{"s":"Nasmyth","id":"n9","x":8.51,"y":1.95e-7},{"s":"Nasmyth","id":"n9","x":12.0,"y":5.62e-8},{"s":"Nasmyth","id":"n9","x":17.0,"y":1.62e-8},{"s":"Nasmyth","id":"n9","x":24.0,"y":5.13e-9},{"s":"Nasmyth","id":"n9","x":28.2,"y":2.88e-9},
      {"s":"Nasmyth","id":"n10","x":0.506,"y":1.10e-5},{"s":"Nasmyth","id":"n10","x":0.603,"y":1.02e-5},{"s":"Nasmyth","id":"n10","x":0.851,"y":6.92e-6},{"s":"Nasmyth","id":"n10","x":1.20,"y":3.47e-6},{"s":"Nasmyth","id":"n10","x":1.70,"y":1.29e-6},{"s":"Nasmyth","id":"n10","x":2.40,"y":4.07e-7},{"s":"Nasmyth","id":"n10","x":3.39,"y":1.20e-7},{"s":"Nasmyth","id":"n10","x":4.79,"y":3.47e-8},{"s":"Nasmyth","id":"n10","x":6.76,"y":1.0e-8},{"s":"Nasmyth","id":"n10","x":9.55,"y":2.88e-9},{"s":"Nasmyth","id":"n10","x":13.5,"y":9.12e-10}
    ],
    "N": [
      {"t":"-5","x":0.873,"y":4.83e-2},
      {"t":"-6","x":0.873,"y":1.0e-2},
      {"t":"-7","x":0.873,"y":2.21e-3},
      {"t":"-8","x":0.873,"y":4.68e-4},
      {"t":"-9","x":0.873,"y":8.13e-5},
      {"t":"-10","x":0.80,"y":6.03e-6}
    ]
  },
  "hconcat": [
    {
      "width": 860,
      "height": 1238,
      "title": {"text": ["DAT_017.P;\u00a0 2021-10-15 19:01:50Z", "Profile = 14,\u00a0\u00a0 Method = [0\u00a0 0 ]", "2 < P < 9 m speed = 0.18 m s⁻¹, fₕₚ = 0.20 Hz"]},
      "layer": [
        {
          "data": {"name": "GX"},
          "mark": {"type": "rule", "color": "#d4d4d4", "strokeWidth": 3},
          "encoding": {
            "x": {
              "field": "g", "type": "quantitative",
              "scale": {"type": "log", "domain": [2.84, 1480], "nice": false},
              "axis": {
                "title": "k\u00a0 [cpm]", "titlePadding": 5,
                "values": [3,4,5,6,7,8,9,10,20,30,40,50,60,70,80,90,100,200,300,400,500,600,700,800,900,1000],
                "labelExpr": "abs(log(datum.value)/LN10 - round(log(datum.value)/LN10)) < 0.01 ? '10' + ['⁰','¹','²','³'][round(log(datum.value)/LN10)] : ''",
                "labelPadding": 25,
                "grid": true, "gridColor": "#a3a3a3", "gridWidth": 2, "gridDash": [2.5, 6]
              }
            }
          }
        },
        {
          "data": {"name": "GY"},
          "mark": {"type": "rule", "color": "#d4d4d4", "strokeWidth": 3},
          "encoding": {
            "y": {
              "field": "g", "type": "quantitative",
              "scale": {"type": "log", "domain": [1e-8, 1], "nice": false},
              "axis": {
                "title": "Φ (k)\u00a0 [s⁻² cpm⁻¹]", "titlePadding": 2,
                "values": [1e-8,2e-8,3e-8,4e-8,5e-8,6e-8,7e-8,8e-8,9e-8,1e-7,2e-7,3e-7,4e-7,5e-7,6e-7,7e-7,8e-7,9e-7,1e-6,2e-6,3e-6,4e-6,5e-6,6e-6,7e-6,8e-6,9e-6,1e-5,2e-5,3e-5,4e-5,5e-5,6e-5,7e-5,8e-5,9e-5,1e-4,2e-4,3e-4,4e-4,5e-4,6e-4,7e-4,8e-4,9e-4,1e-3,2e-3,3e-3,4e-3,5e-3,6e-3,7e-3,8e-3,9e-3,1e-2,2e-2,3e-2,4e-2,5e-2,6e-2,7e-2,8e-2,9e-2,0.1,0.2,0.3,0.4,0.5,0.6,0.7,0.8,0.9,1],
                "labelExpr": "abs(log(datum.value)/LN10 - round(log(datum.value)/LN10)) < 0.01 ? '10' + (round(log(datum.value)/LN10) < 0 ? '⁻' : '') + ['⁰','¹','²','³','⁴','⁵','⁶','⁷','⁸','⁹'][abs(round(log(datum.value)/LN10))] : ''",
                "labelPadding": 8,
                "grid": true, "gridColor": "#a3a3a3", "gridWidth": 2, "gridDash": [2.5, 6]
              }
            }
          }
        },
        {
          "data": {"name": "LU"},
          "mark": {"type": "line", "strokeWidth": 7.5, "strokeJoin": "round", "clip": true},
          "encoding": {
            "x": {"field": "x", "type": "quantitative"},
            "y": {"field": "y", "type": "quantitative"},
            "color": {
              "field": "s", "type": "nominal",
              "scale": {
                "domain": ["∇u₁ clean", "∇u₁", "ϵ=6.3 × 10⁻⁷W kg⁻¹", "∇u₂ clean", "∇u₂", "ϵ=1.4 × 10⁻⁶W kg⁻¹", "∇T₁", "∇T₂", "kₘₐₓ u₁=119cpm", "kₘₐₓ u₂=145cpm"],
                "range": ["#0072BD", "#0072BD", "#000000", "#D95319", "#D95319", "#000000", "#EDB120", "#77AC30", "#0072BD", "#D95319"]
              },
              "legend": {"title": null, "orient": "right", "offset": 15, "rowPadding": 15}
            }
          }
        },
        {
          "data": {"name": "LE"},
          "mark": {"type": "line", "strokeWidth": 7.5, "interpolate": "monotone", "clip": true},
          "encoding": {
            "x": {"field": "x", "type": "quantitative"},
            "y": {"field": "y", "type": "quantitative"},
            "color": {"field": "s", "type": "nominal"}
          }
        },
        {
          "data": {"name": "LT"},
          "mark": {"type": "line", "strokeWidth": 7.5, "strokeJoin": "round", "clip": true},
          "encoding": {
            "x": {"field": "x", "type": "quantitative"},
            "y": {"field": "y", "type": "quantitative"},
            "color": {"field": "s", "type": "nominal"}
          }
        },
        {
          "data": {"name": "K"},
          "mark": {"type": "point", "shape": "triangle-up", "filled": true, "size": 2000, "color": "white", "opacity": 1},
          "encoding": {
            "x": {"field": "x", "type": "quantitative"},
            "y": {"field": "y", "type": "quantitative"}
          }
        },
        {
          "data": {"name": "K"},
          "mark": {"type": "point", "shape": "triangle-up", "filled": true, "size": 1000, "opacity": 1},
          "encoding": {
            "x": {"field": "x", "type": "quantitative"},
            "y": {"field": "y", "type": "quantitative"},
            "color": {"field": "s", "type": "nominal"}
          }
        }
      ]
    },
    {
      "width": 912,
      "height": 1238,
      "title": {"text": ["DAT_017.P;\u00a0 2021-10-15 19:01:50Z", "Profile = 14", "2 < P < 9 m\u00a0 fₕₚ = 0.20 Hz"]},
      "layer": [
        {
          "data": {"name": "R"},
          "mark": {"type": "line", "strokeWidth": 7, "strokeJoin": "round", "clip": true},
          "encoding": {
            "x": {
              "field": "x", "type": "quantitative",
              "scale": {"type": "log", "domain": [0.506, 255], "nice": false},
              "axis": {
                "title": "f\u00a0 [Hz]", "titlePadding": 5, "grid": false,
                "values": [0.6,0.7,0.8,0.9,1,2,3,4,5,6,7,8,9,10,20,30,40,50,60,70,80,90,100,200],
                "labelExpr": "abs(log(datum.value)/LN10 - round(log(datum.value)/LN10)) < 0.01 ? '10' + ['⁰','¹','²','³'][round(log(datum.value)/LN10)] : ''",
                "labelPadding": 25
              }
            },
            "y": {
              "field": "y", "type": "quantitative",
              "scale": {"type": "log", "domain": [1e-9, 10], "nice": false},
              "axis": {
                "title": "[Variance Hz⁻¹]", "titlePadding": 12, "grid": false,
                "values": [1e-9,2e-9,3e-9,4e-9,5e-9,6e-9,7e-9,8e-9,9e-9,1e-8,2e-8,3e-8,4e-8,5e-8,6e-8,7e-8,8e-8,9e-8,1e-7,2e-7,3e-7,4e-7,5e-7,6e-7,7e-7,8e-7,9e-7,1e-6,2e-6,3e-6,4e-6,5e-6,6e-6,7e-6,8e-6,9e-6,1e-5,2e-5,3e-5,4e-5,5e-5,6e-5,7e-5,8e-5,9e-5,1e-4,2e-4,3e-4,4e-4,5e-4,6e-4,7e-4,8e-4,9e-4,1e-3,2e-3,3e-3,4e-3,5e-3,6e-3,7e-3,8e-3,9e-3,1e-2,2e-2,3e-2,4e-2,5e-2,6e-2,7e-2,8e-2,9e-2,0.1,0.2,0.3,0.4,0.5,0.6,0.7,0.8,0.9,1,2,3,4,5,6,7,8,9,10],
                "labelExpr": "abs(log(datum.value)/LN10 - round(log(datum.value)/LN10)) < 0.01 && round(log(datum.value)/LN10) % 2 == 0 ? '10' + (round(log(datum.value)/LN10) < 0 ? '⁻' : '') + ['⁰','¹','²','³','⁴','⁵','⁶','⁷','⁸','⁹'][abs(round(log(datum.value)/LN10))] : ''",
                "labelPadding": 8
              }
            },
            "color": {
              "field": "s", "type": "nominal",
              "scale": {
                "domain": ["Aₓ", "Aᵧ", "∇u₁", "∇u₂", "∇T₁", "∇T₂", "Nasmyth"],
                "range": ["#1EDDE6", "#0ADF0A", "#0072BD", "#D95319", "#EDB120", "#77AC30", "#000000"]
              },
              "legend": {"title": null, "orient": "right", "offset": 17, "rowPadding": 15}
            }
          }
        },
        {
          "data": {"name": "RN"},
          "mark": {"type": "line", "strokeWidth": 7.5, "interpolate": "monotone", "clip": true},
          "encoding": {
            "x": {"field": "x", "type": "quantitative"},
            "y": {"field": "y", "type": "quantitative"},
            "color": {"field": "s", "type": "nominal"},
            "detail": {"field": "id", "type": "nominal"}
          }
        },
        {
          "data": {"name": "N"},
          "mark": {"type": "text", "fontSize": 40, "font": "Liberation Sans", "color": "black", "align": "center", "baseline": "middle"},
          "encoding": {
            "x": {"field": "x", "type": "quantitative"},
            "y": {"field": "y", "type": "quantitative"},
            "text": {"field": "t"}
          }
        }
      ]
    }
  ],
  "spacing": 64,
  "resolve": {"scale": {"color": "independent"}, "legend": {"color": "independent"}}
}
